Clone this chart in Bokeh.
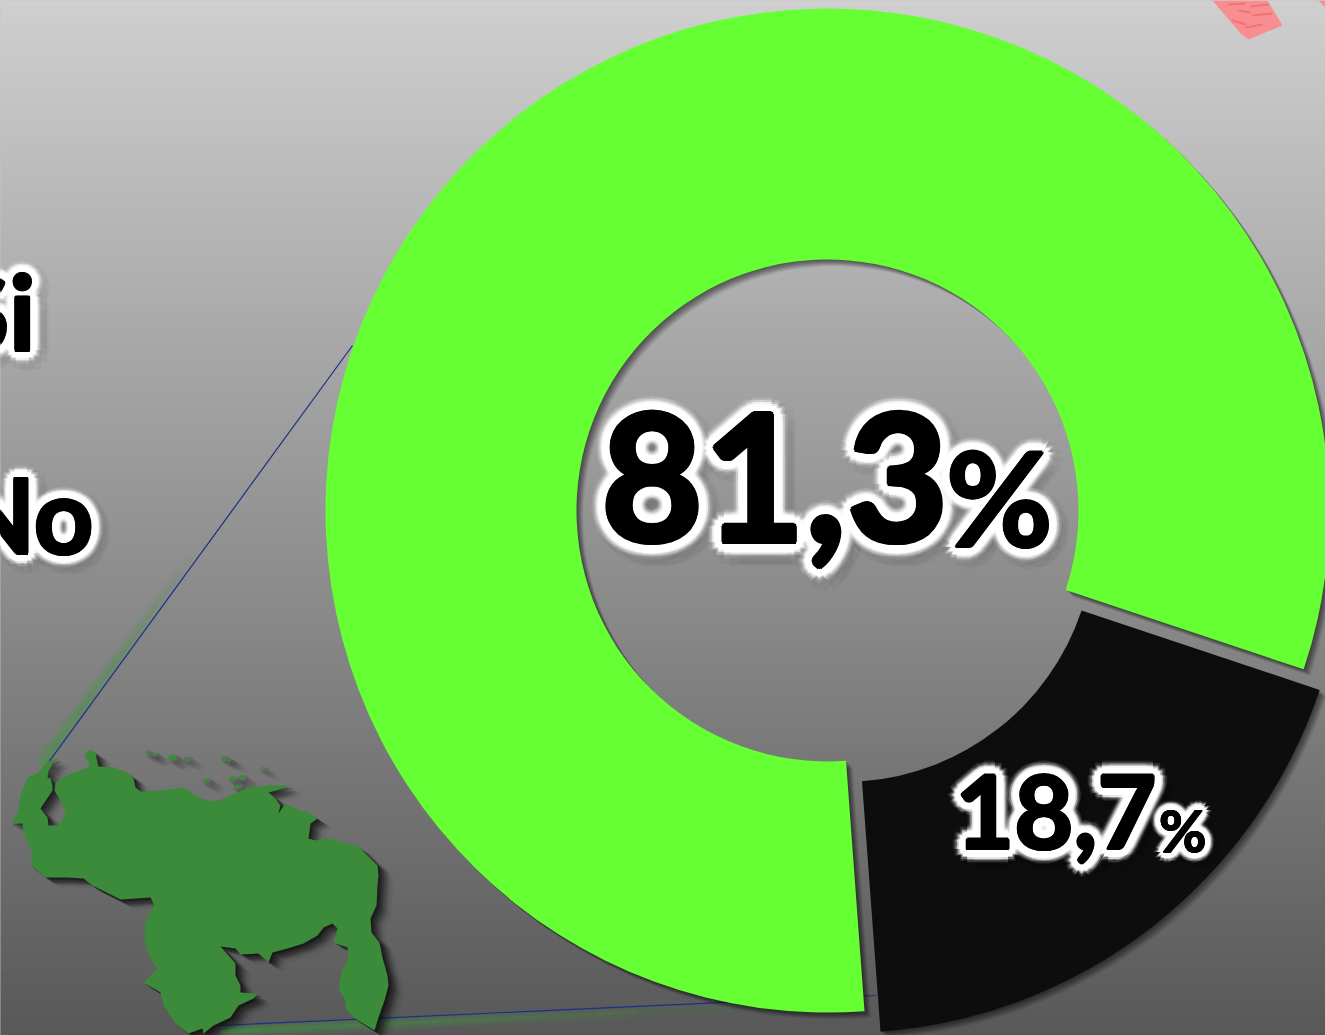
import math
from bokeh.plotting import figure
from bokeh.models import Range1d
from bokeh.core.properties import value
from bokeh.embed import file_html
from bokeh.resources import INLINE

H = 1035
W = 1325
# chart values
labels = ["Si", "No"]
shares = [81.3, 18.7]
share_text = ["81,3", "18,7"]
share_colors = ["#66ff33", "#0d0d0d"]

# map outline (px, y downward)
MAP_X = [43,47,58,53,48,47,50,52,52,40,47,48,57,65,63,54,55,62,73,88,89,84,86,90,95,96,98,113,127,133,135,140,160,183,192,200,213,223,237,248,267,290,282,268,275,280,278,285,295,310,317,310,308,315,328,343,357,367,377,378,377,376,370,371,379,382,387,388,384,378,374,353,345,345,338,342,348,347,333,337,332,323,317,303,287,272,268,258,240,235,220,235,235,240,240,257,253,238,230,213,203,202,188,175,163,160,143,157,148,144,145,154,150,120,92,83,67,45,37,30,32,23,22,10,17,20,27,37]
MAP_Y = [766,761,758,762,770,777,778,785,790,808,817,825,825,815,805,790,783,777,772,767,762,757,751,749,752,758,766,767,772,778,787,791,790,787,793,798,801,798,792,787,785,785,788,792,798,805,813,803,808,813,818,823,838,840,837,842,845,855,865,875,885,905,918,932,942,957,975,985,1000,1017,1030,1017,1008,1000,988,968,958,947,942,928,923,927,935,943,948,952,962,953,954,948,946,963,975,985,992,993,998,1005,1017,1025,1033,1028,1033,1023,1005,992,982,968,955,938,920,905,897,899,885,878,877,877,870,865,852,832,823,823,813,795,777,773]
ISLE_X = [147,154,172,186,223,229,262,206,232,241,237]
ISLE_Y = [752,754,757,758,757,760,768,780,778,777,786]
ISLE_W = [4,4,8,5,5,3,4,7,7,6,9]
ISLE_H = [4,4,6,4,4,3,3,4,4,5,3]
SMUDGE_X = [1212,1240,1248,1282,1267]
SMUDGE_Y = [0,33,39,25,0]
SMUDGE2_X = [1318,1325,1325]
SMUDGE2_Y = [0,7,0]
STREAK_X = [[1228,1245],[1238,1250],[1232,1246],[1250,1268],[1245,1262],[1252,1272]]
STREAK_Y = [[4,3],[10,12],[20,24],[6,4],[27,24],[15,13]]
LINE_A = ([45,352],[766,345])
LINE_B = ([220,876],[1025,995])
BG_TOP, BG_BOTTOM = 207, 88

CX, CY, R_OUT, R_IN = 827, 510, 502, 251
START = -18.45
EXPLODE = 26

p = figure(width=W, height=H, output_backend="svg", toolbar_location=None,
           x_axis_location=None, y_axis_location=None,
           x_range=Range1d(0, W), y_range=Range1d(0, H), min_border=0,
           background_fill_color="#8c8c8c", border_fill_color="#8c8c8c", outline_line_color=None)
p.grid.visible = False

def Y(v):
    return [H - a for a in v]

# background gradient
step = 3
tops = list(range(0, H, step))
greys = [round(BG_TOP + (BG_BOTTOM - BG_TOP) * t / H) for t in tops]
p.quad(left=-10, right=W + 10, top=[H - t + (10 if t == 0 else 0) for t in tops],
       bottom=[H - t - step - 1 - (10 if t + step >= H else 0) for t in tops],
       fill_color=["#%02x%02x%02x" % (g, g, g) for g in greys], line_color=None)

# soft green reflections of the leader lines
xa, ya = LINE_A
xb, yb = LINE_B
for lw, base in [(14, .16), (9, .24), (4, .3)]:
    for i in range(12):
        t0, t1 = i / 12 * 0.5, (i + 1) / 12 * 0.5
        a = base * (1 - i / 12)
        p.line([xa[0] + (xa[1]-xa[0])*t0 - 5, xa[0] + (xa[1]-xa[0])*t1 - 5],
               Y([ya[0] + (ya[1]-ya[0])*t0 - 2, ya[0] + (ya[1]-ya[0])*t1 - 2]),
               line_color="#3f9a3f", line_alpha=a, line_width=lw)
        t0, t1 = i / 12 * 0.85, (i + 1) / 12 * 0.85
        p.line([xb[0] + (xb[1]-xb[0])*t0, xb[0] + (xb[1]-xb[0])*t1],
               Y([yb[0] + (yb[1]-yb[0])*t0 + 6, yb[0] + (yb[1]-yb[0])*t1 + 6]),
               line_color="#3f9a3f", line_alpha=a, line_width=lw)
p.line(xa, Y(ya), line_color="#1a2f8a", line_width=1.2)
p.line(xb, Y(yb), line_color="#1a2f8a", line_width=1.2)

p.patch(SMUDGE_X, Y(SMUDGE_Y), fill_color="#f98e90", line_color=None)
p.patch(SMUDGE2_X, Y(SMUDGE2_Y), fill_color="#f98e90", line_color=None)
p.multi_line(STREAK_X, [Y(s) for s in STREAK_Y], line_color="#e8505a", line_alpha=.45, line_width=2)

# donut
angle = math.radians(START)
for val, col in zip(shares, share_colors):
    span = math.radians(val * 3.6)
    mid = angle + span / 2
    ex = 0 if val > 50 else EXPLODE
    cx = CX + ex * math.cos(mid)
    cy = (H - CY) + ex * math.sin(mid)
    for dx, dy, al in [(1, -1, .1), (2, -2, .1), (3, -3, .1), (4, -4, .1), (5, -5, .1), (6, -6, .08), (7, -7, .05)]:
        p.annular_wedge([cx + dx], [cy + dy], inner_radius=R_IN, outer_radius=R_OUT,
                        start_angle=angle, end_angle=angle + span,
                        fill_color="black", fill_alpha=al, line_color=None)
    p.annular_wedge([cx], [cy], inner_radius=R_IN, outer_radius=R_OUT,
                    start_angle=angle, end_angle=angle + span,
                    fill_color=col, line_color=None)
    angle += span

# map
for dx, dy, al in [(2, 2, .25), (4, 3, .22), (6, 5, .2), (8, 6, .16), (10, 7, .12), (12, 8, .08), (15, 10, .05)]:
    p.patch([a + dx for a in MAP_X], [H - a - dy for a in MAP_Y],
            fill_color="black", fill_alpha=al, line_color=None)
    p.ellipse([a + dx for a in ISLE_X], [H - a - dy for a in ISLE_Y],
              [w + 4 for w in ISLE_W], [h + 4 for h in ISLE_H],
              fill_color="black", fill_alpha=al * .3, line_color=None)
p.patch(MAP_X, Y(MAP_Y), fill_color="#3b8b3b", line_color=None)
p.ellipse(ISLE_X, Y(ISLE_Y), ISLE_W, ISLE_H, fill_color="#3b8b3b", line_color=None)

BASE_FIX = 0.39  # em, lifts the svg text onto its baseline

def label(x, y, txt, size, align, glow, heavy):
    font = dict(text_font=value("Lato"), text_font_style="bold", text_font_size=f"{size}px",
                text_align=align, text_baseline="alphabetic")
    yy = H - y + BASE_FIX * size
    rings = [(glow * 1.25 + heavy, "black", .03, glow * .45), (glow * 1.1 + heavy, "white", .06, 0),
             (glow + heavy, "white", .12, 0), (glow * .85 + heavy, "white", .25, 0),
             (glow * .7 + heavy, "white", .6, 0), (glow * .55 + heavy, "white", 1, 0),
             (glow * .25 + heavy, "white", 1, 0)]
    for r, col, al, shift in rings:
        n = 12
        xo = [r * math.cos(2 * math.pi * k / n) + shift for k in range(n)]
        yo = [r * math.sin(2 * math.pi * k / n) + shift for k in range(n)]
        p.text([x] * n, [yy] * n, text=[txt] * n, x_offset=xo, y_offset=yo,
               text_color=col, text_alpha=al, **font)
    n = 8
    xo = [heavy * math.cos(2 * math.pi * k / n) for k in range(n)] + [0]
    yo = [heavy * math.sin(2 * math.pi * k / n) for k in range(n)] + [0]
    p.text([x] * (n + 1), [yy] * (n + 1), text=[txt] * (n + 1), x_offset=xo, y_offset=yo,
           text_color="black", **font)

label(35, 350, labels[0], 104, "right", 11, 1.5)
label(93, 553, labels[1], 104, "right", 11, 1.5)
label(948, 546, share_text[0], 176, "right", 13, 2.5)
label(1052, 547, "%", 130, "right", 12, 1.5)
label(1156, 851, share_text[1], 102, "right", 12, 1.5)
label(1206, 852, "%", 58, "right", 9, .6)

open("out.html", "w").write(file_html(p, INLINE))
